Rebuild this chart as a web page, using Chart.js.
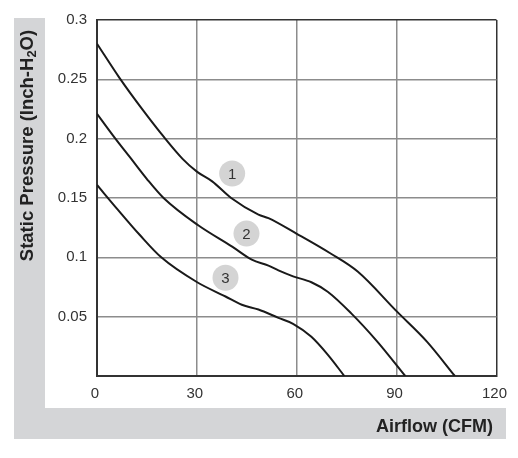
<!DOCTYPE html>
<html>
<head>
<meta charset="utf-8">
<script src="https://cdn.jsdelivr.net/npm/chart.js@4"></script>
<style>
html,body{margin:0;padding:0;background:#fff;}
#wrap{width:518px;height:458px;}
</style>
</head>
<body>
<div id="wrap"><canvas id="c" width="518" height="458"></canvas></div>
<script>
// Curve data: airflow (CFM) vs static pressure (Inch-H2O)
const cfm1 = [0, 6.8, 13.8, 20.2, 25.7, 30.1, 34.6, 40.3, 48.5, 51.5, 59.9, 70.3, 78.3, 90.2, 99.1, 107.5];
const sp1  = [0.280, 0.251, 0.224, 0.201, 0.183, 0.172, 0.164, 0.150, 0.136, 0.133, 0.120, 0.103, 0.088, 0.054, 0.029, 0];
const cfm2 = [0, 5, 10, 15, 20, 30.4, 40.6, 46.5, 51.5, 54.5, 58.9, 64.4, 69.3, 76.3, 84.2, 92.6];
const sp2  = [0.221, 0.202, 0.184, 0.166, 0.150, 0.127, 0.109, 0.098, 0.093, 0.089, 0.084, 0.079, 0.071, 0.053, 0.029, 0];
const cfm3 = [0, 6.3, 12.8, 19.3, 30.1, 38.6, 43.5, 48.5, 54.5, 58.9, 64.4, 69.3, 74.3];
const sp3  = [0.161, 0.140, 0.119, 0.100, 0.079, 0.067, 0.060, 0.056, 0.049, 0.044, 0.033, 0.018, 0];
// Curve marker labels
const markLabels = ['1', '2', '3'];
const markX = [40.6, 44.9, 38.6];
const markY = [0.1706, 0.120, 0.0828];
// Tick labels
const xTickLabels = ['0', '30', '60', '90', '120'];
const yTickLabels = ['', '0.05', '0.1', '0.15', '0.2', '0.25', '0.3'];
const xTitle = 'Airflow (CFM)';
const yTitleParts = ['Static Pressure (Inch-H', '2', 'O)'];

const FONT = '"Liberation Sans", Arial, Helvetica, sans-serif';
const toPts = (xs, ys) => xs.map((x, i) => ({x: x, y: ys[i]}));

const bgPlugin = {
  id: 'bg',
  beforeDraw(chart) {
    const c = chart.ctx;
    c.save();
    c.fillStyle = '#ffffff';
    c.fillRect(0, 0, chart.width, chart.height);
    c.fillStyle = '#d4d5d7';
    c.fillRect(14, 18, 492, 421);
    c.fillStyle = '#ffffff';
    c.fillRect(45, 18, 461, 390);
    c.restore();
  },
  afterDraw(chart) {
    const c = chart.ctx;
    c.save();
    // x title
    c.fillStyle = '#222';
    c.font = 'bold 18px ' + FONT;
    c.textAlign = 'right';
    c.textBaseline = 'middle';
    c.fillText(xTitle, 493, 427);
    // y title (rotated, with subscript)
    c.translate(27.5, 145.5);
    c.rotate(-Math.PI / 2);
    const bigF = 'bold 18.5px ' + FONT, subF = 'bold 13px ' + FONT;
    c.font = bigF; const w0 = c.measureText(yTitleParts[0]).width;
    c.font = subF; const w1 = c.measureText(yTitleParts[1]).width;
    c.font = bigF; const w2 = c.measureText(yTitleParts[2]).width;
    let x = -(w0 + w1 + w2) / 2;
    c.textAlign = 'left';
    c.textBaseline = 'middle';
    c.font = bigF; c.fillText(yTitleParts[0], x, 0); x += w0;
    c.font = subF; c.fillText(yTitleParts[1], x, 5); x += w1;
    c.font = bigF; c.fillText(yTitleParts[2], x, 0);
    c.restore();
  },
  afterDatasetsDraw(chart) {
    const c = chart.ctx;
    const xs = chart.scales.x, ys = chart.scales.y;
    c.save();
    c.fillStyle = '#333';
    c.font = '15px ' + FONT;
    c.textAlign = 'center';
    c.textBaseline = 'middle';
    markLabels.forEach((t, i) => {
      c.fillText(t, xs.getPixelForValue(markX[i]), ys.getPixelForValue(markY[i]) + 1);
    });
    c.restore();
  }
};

const lineStyle = {
  borderColor: '#1a1a1a', borderWidth: 2, pointRadius: 0, fill: false,
  cubicInterpolationMode: 'monotone', showLine: true
};

new Chart(document.getElementById('c'), {
  type: 'scatter',
  data: {
    datasets: [
      Object.assign({label: '1', data: toPts(cfm1, sp1)}, lineStyle),
      Object.assign({label: '2', data: toPts(cfm2, sp2)}, lineStyle),
      Object.assign({label: '3', data: toPts(cfm3, sp3)}, lineStyle),
      {label: 'marks', data: toPts(markX, markY), showLine: false,
       pointRadius: 13, pointBackgroundColor: '#d4d4d4', pointBorderWidth: 0,
       pointBorderColor: 'rgba(0,0,0,0)'}
    ]
  },
  options: {
    responsive: false, animation: false,
    layout: {padding: {top: 20, right: 17, left: 0, bottom: 0}},
    plugins: {legend: {display: false}, tooltip: {enabled: false}},
    scales: {
      x: {
        type: 'linear', min: 0, max: 120,
        afterFit(s) { s.height = 82; },
        ticks: {stepSize: 30, padding: 9, labelOffset: -2, color: '#333',
                font: {family: FONT, size: 15},
                callback: (v, i) => xTickLabels[i]},
        grid: {drawTicks: false, lineWidth: 1.5,
               color: ctx => (ctx.tick && ctx.tick.value === 120) ? '#333' : '#8c8c8c'},
        border: {color: '#333', width: 2}
      },
      y: {
        type: 'linear', min: 0, max: 0.3,
        afterFit(s) { s.width = 97; },
        ticks: {stepSize: 0.05, padding: 10, color: '#333',
                font: {family: FONT, size: 15},
                callback: (v, i) => yTickLabels[i]},
        grid: {drawTicks: false, lineWidth: 1.5,
               color: ctx => (ctx.tick && Math.abs(ctx.tick.value - 0.3) < 1e-9) ? '#333' : '#8c8c8c'},
        border: {color: '#333', width: 2}
      }
    }
  },
  plugins: [bgPlugin]
});
</script>
</body>
</html>
